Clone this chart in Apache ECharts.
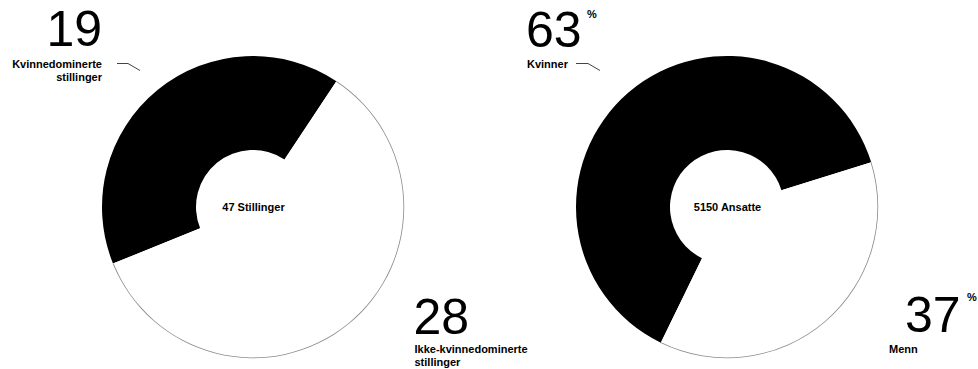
<!DOCTYPE html>
<html>
<head>
<meta charset="utf-8">
<script src="https://cdn.jsdelivr.net/npm/echarts@6/dist/echarts.min.js"></script>
<style>
html,body{margin:0;padding:0;background:#ffffff;}
#chart{width:978px;height:369px;}
</style>
</head>
<body>
<div id="chart"></div>
<script>
// ---- data ----
const leftCategories = ['Kvinnedominerte stillinger', 'Ikke-kvinnedominerte stillinger'];
const leftValues = [19, 28];
const leftCenterText = '47 Stillinger';
const rightCategories = ['Kvinner', 'Menn'];
const rightValues = [63, 37];           // percent
const rightCenterText = '5150 Ansatte';
const sliceColors = ['#000000', '#ffffff'];

const FONT = '"Liberation Sans", Arial, Helvetica, sans-serif';

function pieData(cats, vals, colors) {
  return cats.map((c, i) => ({ name: c, value: vals[i], itemStyle: { color: colors[i] } }));
}

function pieSeries(center, cats, vals, startAngle) {
  return [
    {
      type: 'pie', center: center, radius: [57, 151], startAngle: startAngle, clockwise: true,
      silent: true, label: { show: false }, labelLine: { show: false },
      itemStyle: { borderWidth: 0 },
      data: pieData(cats, vals, sliceColors), z: 2
    },
    {
      type: 'pie', center: center, radius: [150.4, 151.2], startAngle: startAngle, clockwise: true,
      silent: true, label: { show: false }, labelLine: { show: false },
      itemStyle: { borderWidth: 0 },
      data: pieData(cats, vals, ['rgba(0,0,0,0)', '#8a8a8a']), z: 3
    }
  ];
}

function txt(x, y, text, size, bold, align) {
  return {
    type: 'text', x: x, y: y, silent: true,
    style: {
      text: text, fill: '#000000',
      font: (bold ? 'bold ' : '') + size + 'px ' + FONT,
      align: align, verticalAlign: 'middle'
    }
  };
}

function line(points) {
  return {
    type: 'polyline', silent: true,
    shape: { points: points },
    style: { stroke: '#444444', lineWidth: 1, fill: null }
  };
}

const leftNameTop = leftCategories[0].split(' ');
const leftNameBottom = leftCategories[1].split(' ');

const option = {
  backgroundColor: '#ffffff',
  animation: false,
  tooltip: { show: false },
  series: [].concat(
    pieSeries([253, 207], leftCategories, leftValues, 202),
    pieSeries([727, 207], rightCategories, rightValues, 244)
  ),
  graphic: [
    // left pie
    txt(102, 28.5, String(leftValues[0]), 50, false, 'right'),
    txt(102, 64, leftNameTop[0], 11, true, 'right'),
    txt(102, 77, leftNameTop[1], 11, true, 'right'),
    line([[117, 63.5], [128, 63.5], [140, 70.5]]),
    txt(413.5, 316.5, String(leftValues[1]), 50, false, 'left'),
    txt(414.5, 349, leftNameBottom[0], 11, true, 'left'),
    txt(414.5, 362, leftNameBottom[1], 11, true, 'left'),
    txt(253.5, 207, leftCenterText, 11, true, 'center'),
    // right pie
    txt(526, 30, String(rightValues[0]), 50, false, 'left'),
    txt(587, 14, '%', 11, true, 'left'),
    txt(527, 64, rightCategories[0], 11, true, 'left'),
    line([[576, 63.5], [588, 63.5], [600, 70.5]]),
    txt(905, 315, String(rightValues[1]), 50, false, 'left'),
    txt(967, 297, '%', 11, true, 'left'),
    txt(889, 349, rightCategories[1], 11, true, 'left'),
    txt(727.5, 207, rightCenterText, 11, true, 'center')
  ]
};

const chart = echarts.init(document.getElementById('chart'), null, { renderer: 'svg' });
chart.setOption(option);
</script>
</body>
</html>
